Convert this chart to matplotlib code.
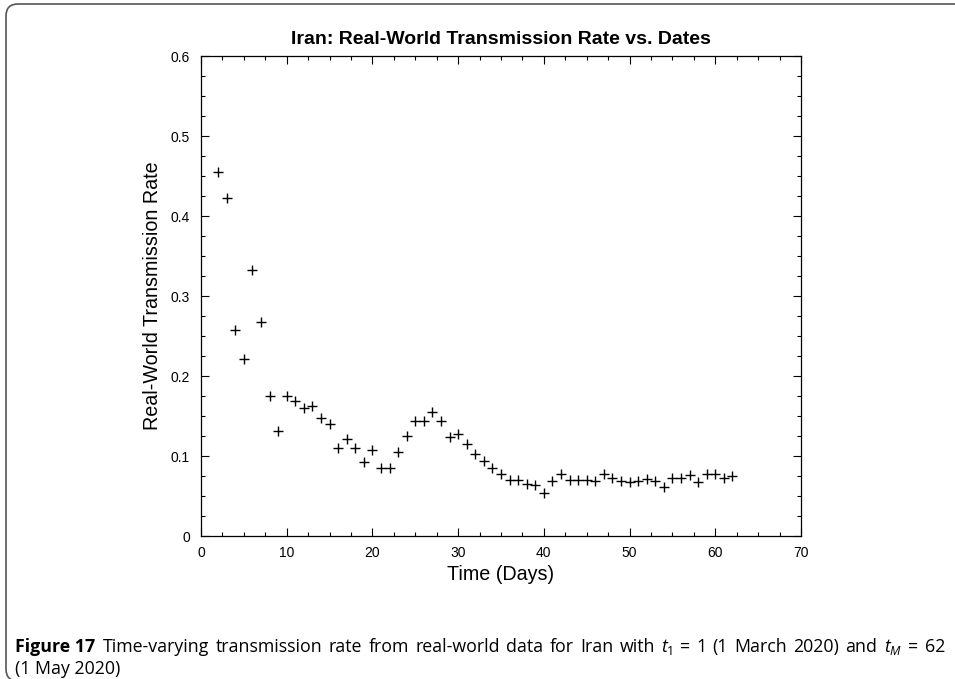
import matplotlib

matplotlib.use("Agg")
import matplotlib.pyplot as plt  # noqa: E402
from matplotlib.patches import FancyBboxPatch  # noqa: E402
from matplotlib.ticker import MultipleLocator  # noqa: E402

# days 2..62 and the real-world transmission rate
days = list(range(2, 63))
rate = [0.455, 0.423, 0.257, 0.221, 0.332, 0.268, 0.175, 0.131, 0.175, 0.169,
        0.160, 0.163, 0.148, 0.140, 0.110, 0.121, 0.110, 0.092, 0.108, 0.085,
        0.085, 0.105, 0.125, 0.144, 0.144, 0.155, 0.144, 0.124, 0.128, 0.115,
        0.102, 0.094, 0.085, 0.078, 0.070, 0.070, 0.065, 0.064, 0.054, 0.069,
        0.077, 0.070, 0.070, 0.070, 0.069, 0.077, 0.073, 0.069, 0.067, 0.069,
        0.071, 0.069, 0.061, 0.073, 0.073, 0.076, 0.067, 0.078, 0.077, 0.072,
        0.075]

x_ticks = [0, 10, 20, 30, 40, 50, 60, 70]
y_ticks = [0, 0.1, 0.2, 0.3, 0.4, 0.5, 0.6]
y_labels = ["0", "0.1", "0.2", "0.3", "0.4", "0.5", "0.6"]

TITLE = "Iran: Real-World Transmission Rate vs. Dates"
CAP_BOLD = "Figure 17"
CAP_1 = ("Time-varying transmission rate from real-world data for Iran with "
         "$t_1$ = 1 (1 March 2020) and $t_M$ = 62")
CAP_2 = "(1 May 2020)"

plt.rcParams.update({
    "font.family": ["Liberation Sans", "DejaVu Sans"],
    "mathtext.fontset": "custom",
    "mathtext.rm": "Open Sans",
    "mathtext.it": "Open Sans:italic",
    "xtick.direction": "in", "ytick.direction": "in",
    "xtick.top": True, "ytick.right": True,
    "xtick.minor.visible": True, "ytick.minor.visible": True,
})

fig = plt.figure(figsize=(9.55, 6.79), dpi=100)
ax = fig.add_axes([201 / 955, 1 - 536 / 679, 600 / 955, 480 / 679])

ax.plot(days, rate, "+", color="black", markersize=7.5, markeredgewidth=1.0)

ax.set_xlim(0, 70)
ax.set_ylim(0, 0.6)
ax.set_xticks(x_ticks)
ax.set_yticks(y_ticks)
ax.set_yticklabels(y_labels)
ax.xaxis.set_minor_locator(MultipleLocator(2.5))
ax.yaxis.set_minor_locator(MultipleLocator(0.025))
ax.tick_params(which="major", length=6, width=0.8, labelsize=10)
ax.tick_params(axis="x", pad=7)
ax.tick_params(axis="y", pad=8)
ax.tick_params(which="minor", length=3, width=0.8)
for sp in ax.spines.values():
    sp.set_linewidth(0.9)

ax.set_xlabel("Time (Days)", fontsize=14.2, labelpad=4)
ax.set_ylabel("Real-World Transmission Rate", fontsize=14.2, labelpad=6)
ax.set_title(TITLE, fontsize=14, fontweight="bold", pad=9)

# caption frame, open on the right and bottom like the page crop
frame = FancyBboxPatch((6, -2), 1100, 677, boxstyle="round,pad=0,rounding_size=12",
                       transform=None, facecolor="none", edgecolor="#555555",
                       linewidth=1.2, clip_on=False)
fig.patches.append(frame)

# caption: first line is justified to the right edge, as in the typeset page
cap_kw = dict(fontsize=12.8, family="Open Sans", va="baseline", transform=None)
y1, y2 = 679 - 652, 679 - 674
t_bold = fig.text(15, y1, CAP_BOLD, fontweight="bold", **cap_kw)
fig.canvas.draw()
renderer = fig.canvas.get_renderer()
x_start = t_bold.get_window_extent(renderer).x1 + 8
x_end = 945
words = CAP_1.split(" ")
texts = [fig.text(0, y1, w, **cap_kw) for w in words]
widths = [t.get_window_extent(renderer).width for t in texts]
gap = (x_end - x_start - sum(widths)) / (len(words) - 1)
x = x_start
for t, w in zip(texts, widths):
    t.set_x(x)
    x += w + gap
fig.text(15, y2, CAP_2, **cap_kw)

fig.savefig("out.png", dpi=100)
